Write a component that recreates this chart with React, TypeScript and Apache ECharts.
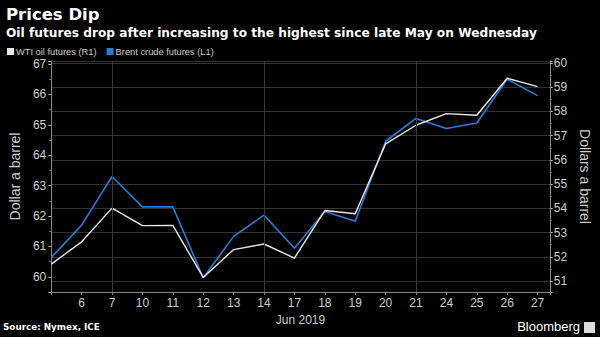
import React, { useEffect, useRef } from "react";
import * as echarts from "echarts";

const days = ["5", "6", "7", "10", "11", "12", "13", "14", "17", "18", "19", "20", "21", "24", "25", "26", "27"];
const brent = [60.63, 61.7, 63.3, 62.3, 62.3, 59.97, 61.33, 62.03, 60.94, 62.15, 61.83, 64.46, 65.21, 64.88, 65.06, 66.5, 65.96];
const wti = [51.7, 52.62, 54.01, 53.29, 53.3, 51.15, 52.3, 52.53, 51.95, 53.91, 53.78, 56.66, 57.43, 57.91, 57.84, 59.37, 59.02];
const weekLines = [2, 7, 12];

const FONT = "Liberation Sans";
const TFONT = "DejaVu Sans";

export default function App() {
  const ref = useRef<HTMLDivElement>(null);
  useEffect(() => {
    const chart = echarts.init(ref.current!, null, { renderer: "svg" });
    const xData = (arr: number[]) => arr.map((v, i) => [i, v]);
    chart.setOption({
      animation: false,
      backgroundColor: "#000",
      textStyle: { fontFamily: FONT },
      title: [
        { text: "Prices Dip", left: 1, top: 1, textStyle: { color: "#fff", fontSize: 16.5, fontWeight: "bold", fontFamily: TFONT } },
        { text: "Oil futures drop after increasing to the highest since late May on Wednesday", left: 1, top: 22, textStyle: { color: "#fff", fontSize: 12.2, fontWeight: "bold", fontFamily: TFONT } },
      ],
      legend: {
        left: 2, top: 42, itemWidth: 7, itemHeight: 7, itemGap: 10, icon: "rect",
        data: ["WTI oil futures (R1)", "Brent crude futures (L1)"],
        textStyle: { color: "#ccc", fontSize: 9.3, padding: [0, 0, 0, -3] },
      },
      grid: { left: 34, right: 35, top: 61, bottom: 45 },
      xAxis: {
        type: "value", min: 0, max: 16.4, interval: 1,
        name: "Jun 2019", nameLocation: "middle", nameGap: 22,
        nameTextStyle: { color: "#ccc", fontSize: 12 },
        axisLine: { lineStyle: { color: "#888" } },
        axisTick: { show: true, length: 3, lineStyle: { color: "#888" } },
        axisLabel: { color: "#ccc", fontSize: 12, margin: 5, formatter: (v: number) => (Number.isInteger(v) && v > 0 ? days[v] : "") },
        splitLine: { show: false },
      },
      yAxis: [
        {
          type: "value", position: "left", min: 59.5, max: 67.1, splitNumber: 8,
          name: "Dollar a barrel", nameLocation: "middle", nameRotate: 90, nameGap: 20,
          nameTextStyle: { color: "#ccc", fontSize: 14 },
          axisLine: { show: true, lineStyle: { color: "#888" } },
          axisTick: { show: true, length: 3, lineStyle: { color: "#aaa" } },
          minorTick: { show: true, splitNumber: 2, length: 2, lineStyle: { color: "#777" } },
          axisLabel: { color: "#ccc", fontSize: 12, margin: 5, formatter: (v: number) => (Math.abs(v - Math.round(v)) < 1e-6 ? String(Math.round(v)) : "") },
          splitLine: { show: false },
        },
        {
          type: "value", position: "right", min: 50.55, max: 60.08, splitNumber: 10,
          name: "Dollars a barrel", nameLocation: "middle", nameRotate: -90, nameGap: 24,
          nameTextStyle: { color: "#ccc", fontSize: 14 },
          axisLine: { show: true, lineStyle: { color: "#888" } },
          axisTick: { show: true, length: 3, lineStyle: { color: "#aaa" } },
          minorTick: { show: true, splitNumber: 2, length: 2, lineStyle: { color: "#777" } },
          axisLabel: { color: "#ccc", fontSize: 12, margin: 4, formatter: (v: number) => (Math.abs(v - Math.round(v)) < 1e-6 ? String(Math.round(v)) : "") },
          splitLine: { show: true, lineStyle: { color: "#333", width: 1 } },
        },
      ],
      series: [
        {
          name: "Brent crude futures (L1)", type: "line", yAxisIndex: 0, data: xData(brent),
          symbol: "none", color: "#2d7ad6", lineStyle: { width: 1.6, color: "#2d7ad6" },
          markLine: {
            silent: true, symbol: "none", label: { show: false },
            lineStyle: { color: "#3a3a3a", width: 1, type: "solid" },
            data: weekLines.map((x) => ({ xAxis: x })),
          },
        },
        {
          name: "WTI oil futures (R1)", type: "line", yAxisIndex: 1, data: xData(wti),
          symbol: "none", color: "#e8e8e8", lineStyle: { width: 1.4, color: "#e8e8e8" },
        },
      ],
      graphic: [
        { type: "text", left: 3, top: 322, style: { text: "Source: Nymex, ICE", fill: "#fff", fontSize: 8.8, fontWeight: "bold", fontFamily: TFONT } },
        { type: "text", right: 20, top: 320, style: { text: "Bloomberg", fill: "#fff", fontSize: 13, fontFamily: FONT } },
        { type: "rect", right: 5, top: 322, shape: { width: 11, height: 11 }, style: { fill: "#ddd" } },
      ],
    });
    return () => chart.dispose();
  }, []);
  return <div ref={ref} style={{ width: 600, height: 337, position: "absolute", left: 0, top: 0 }} />;
}
